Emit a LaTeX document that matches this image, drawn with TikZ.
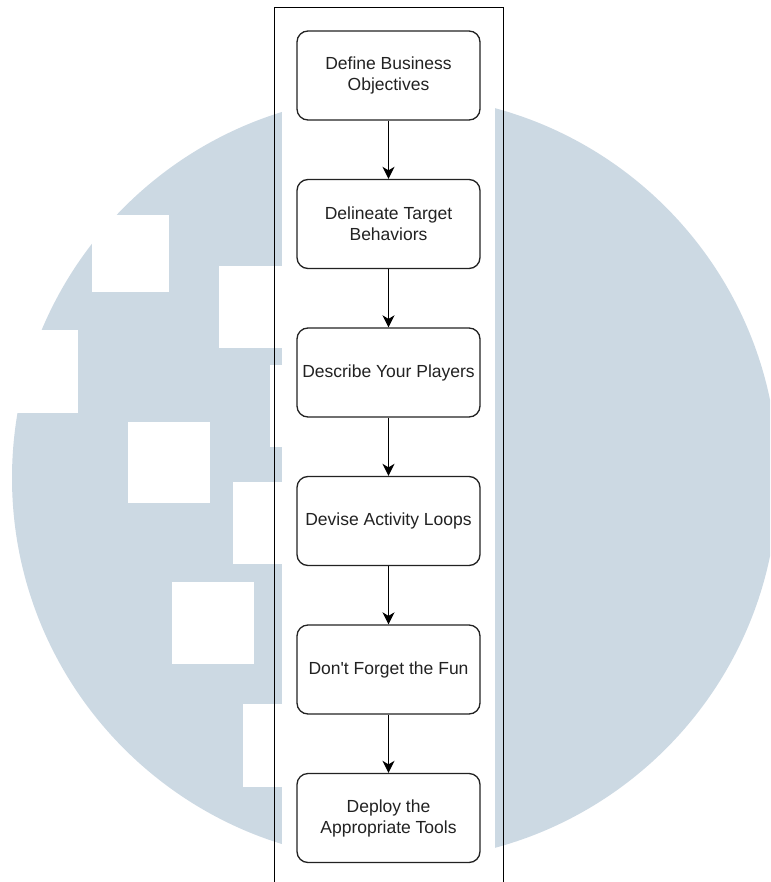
\documentclass[tikz,border=0pt]{standalone}
\usepackage{fontspec}
\setmainfont{Liberation Sans}
\usetikzlibrary{arrows.meta}
\definecolor{wm}{RGB}{204,217,227}
\definecolor{ink}{RGB}{34,34,34}
\begin{document}
\begin{tikzpicture}[x=1pt,y=-1pt,
  stepbox/.style={draw=ink, line width=1.3pt, rounded corners=11pt, minimum width=183pt, minimum height=89pt, inner sep=2pt, align=center, font=\fontsize{17.5}{21}\selectfont, text=ink, fill=white},
  flow/.style={draw=black, line width=1.5pt, -{Stealth[length=12pt,width=12pt,inset=3.5pt]}},
  hole/.style={fill=white, draw=none},
  frameline/.style={draw=black, line width=1pt}]
\useasboundingbox (0,0) rectangle (770,882);
% watermark circle
\begin{scope}
\clip (0,0) rectangle (770,882);
\fill[wm] (395,478) circle[radius=383pt];
\end{scope}
% white squares
\fill[hole] (92,215) rectangle (169,292);
\fill[hole] (219,266) rectangle (282,348);
\fill[hole] (0,330) rectangle (78,413);
\fill[hole] (270,365) rectangle (282,447);
\fill[hole] (128,422) rectangle (210,503);
\fill[hole] (233,482) rectangle (282,564);
\fill[hole] (172,582) rectangle (254,664);
\fill[hole] (243,704) rectangle (282,787);
% white column and frame
\fill[hole] (282,8) rectangle (495,882);
\coordinate (fbl) at (274,882);
\coordinate (ftl) at (274,8);
\coordinate (ftr) at (503,8);
\coordinate (fbr) at (503,882);
\draw[frameline] (fbl) -- (ftl) -- (ftr) -- (fbr);
% steps
\node[stepbox] (s1) at (388.5,75.5) {Define Business\\Objectives};
\node[stepbox] (s2) at (388.5,224) {Delineate Target\\Behaviors};
\node[stepbox] (s3) at (388.5,372.5) {Describe Your Players};
\node[stepbox] (s4) at (388.5,521) {Devise Activity Loops};
\node[stepbox] (s5) at (388.5,669.5) {Don\textquotesingle t Forget the Fun};
\node[stepbox] (s6) at (388.5,818) {Deploy the\\Appropriate Tools};
\draw[flow] (s1) -- (s2);
\draw[flow] (s2) -- (s3);
\draw[flow] (s3) -- (s4);
\draw[flow] (s4) -- (s5);
\draw[flow] (s5) -- (s6);
\end{tikzpicture}
\end{document}
